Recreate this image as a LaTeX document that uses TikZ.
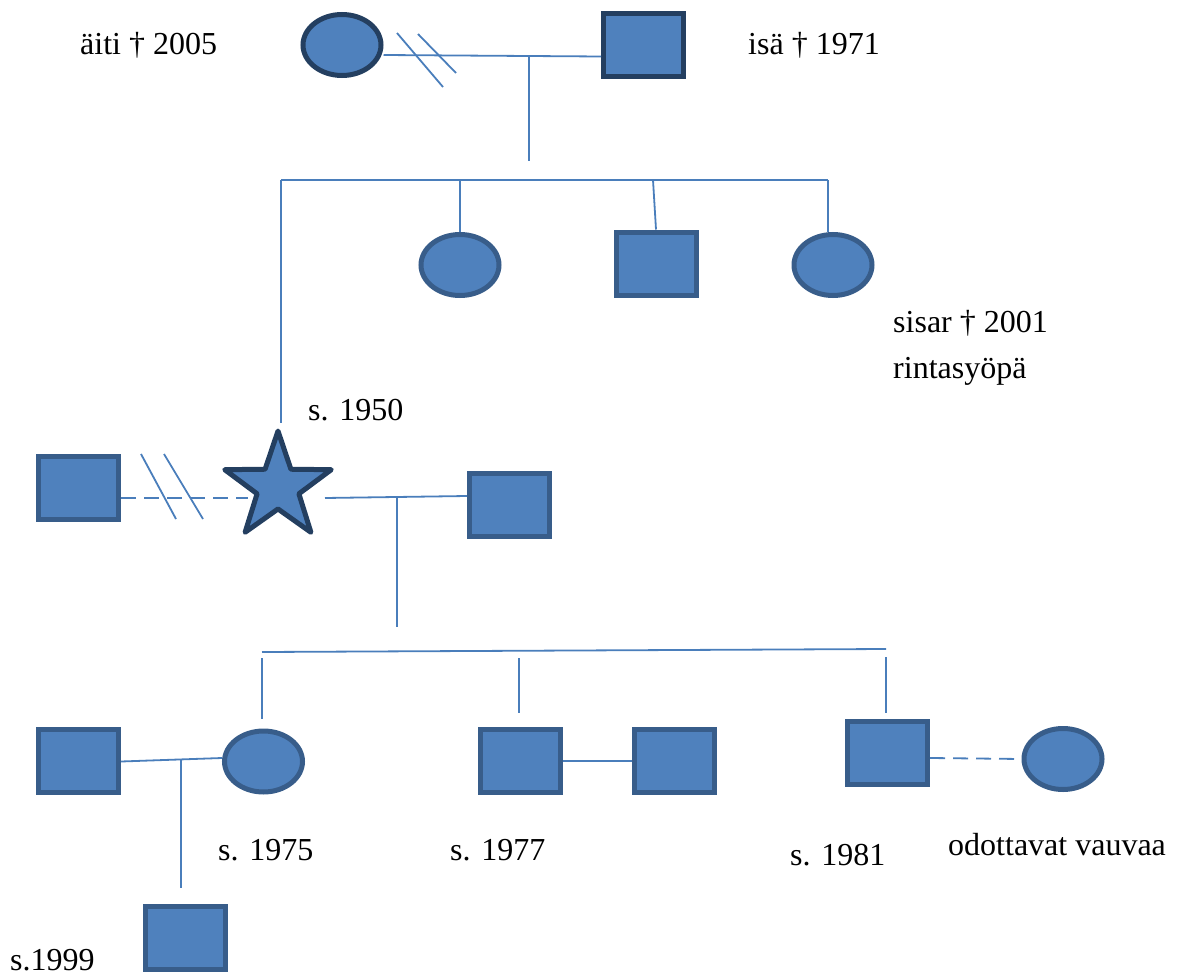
\documentclass[tikz,border=0pt]{standalone}
\usepackage{fontspec}
\setmainfont{Liberation Serif}
\usetikzlibrary{shapes.geometric}

\definecolor{fillBlue}{HTML}{4F81BD}
\definecolor{borderBlue}{HTML}{385D8A}
\definecolor{borderDark}{HTML}{243F60}
\definecolor{lineBlue}{HTML}{4A7EBB}

\begin{document}
\begin{tikzpicture}[x=1pt,y=-1pt,%%
  femaleStyle/.style={ellipse,draw=borderBlue,fill=fillBlue,line width=5pt,inner sep=0pt,minimum width=78pt,minimum height=61pt},%%
  maleStyle/.style={rectangle,draw=borderBlue,fill=fillBlue,line width=5pt,inner sep=0pt,minimum width=80pt,minimum height=63pt},%%
  probandStyle/.style={star,star points=5,star point ratio=2.55,draw=borderDark,fill=fillBlue,line width=5pt,line join=round,inner sep=0pt,minimum size=112pt},%%
  lineStyle/.style={-,draw=lineBlue,line width=1.8pt},%%
  dashStyle/.style={lineStyle,dash pattern=on 15pt off 8pt},%%
  labelStyle/.style={anchor=west,inner sep=0pt,font=\fontsize{32}{38}\selectfont}%%
]
%%
\useasboundingbox (0,0) rectangle (1178,979);
%%
%% The grandparents.
\node[femaleStyle,draw=borderDark] (mother) at (342,45) {};
\node[maleStyle,draw=borderDark] (father) at (643.5,45.5) {};
\node[labelStyle] (motherText) at (80,45) {äiti † 2005};
\node[labelStyle] (fatherText) at (748,45) {isä † 1971};
%% Divorced couple.
\draw[lineStyle] ([yshift=-10pt]mother.east) -- ([yshift=-11pt]father.west);
\draw[lineStyle] (397,33) -- (443,87);
\draw[lineStyle] (418,34) -- (456,73);
\coordinate (topMid) at (529,56);
\coordinate (topDrop) at (529,161);
\draw[lineStyle] (topMid) -- (topDrop);
%%
%% The sibship.
\coordinate (sibLeft) at (281,180);
\coordinate (sibRight) at (828,180);
\draw[lineStyle] (sibLeft) -- (sibRight);
\node[femaleStyle] (sisterA) at (460,265) {};
\node[maleStyle] (brother) at (656,263.5) {};
\node[femaleStyle] (sisterB) at (833,265) {};
\draw[lineStyle] (460,180) -- (sisterA.north);
\draw[lineStyle] (653,180) -- (brother.north);
\draw[lineStyle] (sibRight) -- (sibRight |- sisterB.north);
\node[labelStyle] (sisterText) at (893,323) {sisar † 2001};
\node[labelStyle] (causeText) at (893,371) {rintasyöpä};
%%
%% The proband and her partners.
\node[probandStyle] (proband) at (278,487) {};
\draw[lineStyle] (sibLeft) -- (sibLeft |- proband.north);
\node[labelStyle] (probandText) at (308,410) {s. 1950};
\node[maleStyle] (exHusband) at (78.5,487.5) {};
\node[maleStyle] (husband) at (509.5,505) {};
\draw[dashStyle] ([yshift=-10.5pt]exHusband.east) -- ([xshift=-30pt,yshift=-11pt]proband.center);
\draw[lineStyle] (141,454) -- (176,519);
\draw[lineStyle] (164,454) -- (203,519);
\draw[lineStyle] ([xshift=47pt,yshift=-11pt]proband.center) -- ([yshift=9pt]husband.west);
\coordinate (midMid) at (397,497);
\coordinate (midDrop) at (397,627);
\draw[lineStyle] (midMid) -- (midDrop);
%%
%% The children.
\coordinate (kidLeft) at (262,652);
\coordinate (kidRight) at (886,649);
\draw[lineStyle] (kidLeft) -- (kidRight);
\draw[lineStyle] (262,658) -- (262,719);
\draw[lineStyle] (519,658) -- (519,713);
\draw[lineStyle] (886,657) -- (886,713);
%% Daughter with her family.
\node[femaleStyle] (daughter) at (263.5,761.5) {};
\node[maleStyle] (sonInLaw) at (78.5,761) {};
\draw[lineStyle] ([yshift=-0.5pt]sonInLaw.east) -- ([yshift=3.5pt]daughter.west);
\coordinate (lowMid) at (181,759);
\coordinate (lowDrop) at (181,888);
\draw[lineStyle] (lowMid) -- (lowDrop);
\node[maleStyle] (grandson) at (185,938) {};
\node[labelStyle] (grandsonText) at (10,960) {s.1999};
\node[labelStyle] (daughterText) at (218,850) {s. 1975};
%% Middle son with his partner.
\node[maleStyle] (sonA) at (520.5,761) {};
\node[maleStyle] (partnerA) at (674.5,761) {};
\draw[lineStyle] (sonA) -- (partnerA);
\node[labelStyle] (sonAText) at (450,850) {s. 1977};
%% Youngest son expecting a baby.
\node[maleStyle] (sonB) at (887.5,753) {};
\node[femaleStyle] (partnerB) at (1063,759) {};
\draw[dashStyle] ([yshift=-5pt]sonB.east) -- ([yshift=0pt]partnerB.west);
\node[labelStyle] (sonBText) at (790,855) {s. 1981};
\node[labelStyle] (babyText) at (948,845) {odottavat vauvaa};
\end{tikzpicture}
\end{document}
